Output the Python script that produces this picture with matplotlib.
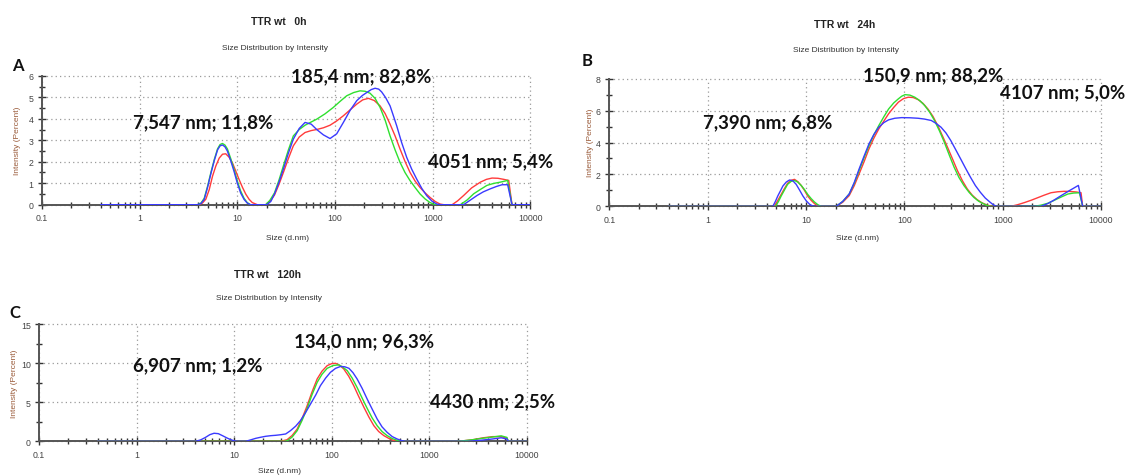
import matplotlib
matplotlib.use("Agg")
import matplotlib.pyplot as plt
from matplotlib.ticker import FixedLocator, NullFormatter, MultipleLocator

# ---------------- data: (size nm, intensity %) ----------------
# Panel A : TTR wt 0h
a_red = [(0.4, 0), (4.06, 0), (4.4, 0.08), (4.76, 0.26), (5.15, 0.7), (5.57, 1.33), (6.02, 1.8), (6.52, 2.17),
         (7.05, 2.35), (7.6, 2.37), (8.2, 2.22), (8.9, 1.95), (9.6, 1.58), (10.4, 1.18), (11.3, 0.8), (12.2, 0.49),
         (13.2, 0.25), (14.2, 0.1), (16.0, 0), (19.5, 0), (21.5, 0.15), (24, 0.45), (26.7, 0.95), (29.6, 1.5),
         (33.3, 2.15), (37.4, 2.74), (43, 3.15), (49.3, 3.36), (57, 3.45), (64.9, 3.5), (76, 3.58), (88.9, 3.7),
         (104, 3.9), (121.7, 4.14), (143, 4.42), (166.7, 4.68), (192, 4.88), (219.4, 4.95), (252, 4.85),
         (289, 4.6), (325, 4.25), (366, 3.75), (412, 3.2), (463, 2.59), (520, 2.02), (586, 1.5), (660, 1.1),
         (742, 0.8), (835, 0.55), (939, 0.34), (1060, 0.15), (1189, 0.03), (1300, 0), (1580, 0), (1800, 0.18),
         (2075, 0.43), (2500, 0.78), (3076, 1.05), (3550, 1.18), (4050, 1.24), (4650, 1.23), (5330, 1.18),
         (6000, 1.13), (6480, 0), (10000, 0)]
a_green = [(0.4, 0), (3.92, 0), (4.25, 0.08), (4.58, 0.3), (4.95, 0.85), (5.36, 1.5), (5.8, 2.1), (6.27, 2.6),
           (6.65, 2.8), (7.03, 2.85), (7.45, 2.78), (7.9, 2.6), (8.55, 2.15), (9.25, 1.64), (10.0, 1.1),
           (10.8, 0.64), (11.7, 0.3), (12.6, 0.1), (13.6, 0), (19.5, 0), (21.5, 0.2), (24, 0.55), (26.7, 1.15),
           (29.6, 1.81), (33.3, 2.55), (37.4, 3.2), (43, 3.5), (49.3, 3.7), (57, 3.85), (64.9, 3.98), (79, 4.23),
           (96.1, 4.53), (112, 4.8), (131.6, 5.07), (155, 5.22), (180.3, 5.3), (203, 5.28), (228, 5.19),
           (257, 4.95), (289, 4.53), (325, 3.95), (366, 3.2), (412, 2.55), (463, 1.97), (520, 1.5), (586, 1.12),
           (660, 0.8), (742, 0.5), (835, 0.27), (939, 0.1), (1050, 0), (1920, 0), (2250, 0.22), (2630, 0.51),
           (3100, 0.72), (3595, 0.9), (4200, 0.99), (4930, 1.05), (5850, 1.13), (6480, 0), (10000, 0)]
a_blue = [(0.4, 0), (3.92, 0), (4.25, 0.06), (4.58, 0.25), (4.95, 0.8), (5.36, 1.45), (5.8, 2.05), (6.27, 2.55),
          (6.65, 2.74), (7.03, 2.78), (7.45, 2.7), (7.9, 2.5), (8.55, 2.05), (9.25, 1.55), (10.0, 1.0),
          (10.8, 0.55), (11.7, 0.25), (12.6, 0.08), (13.6, 0), (20, 0), (22, 0.15), (24, 0.5), (26.7, 1.05),
          (29.6, 1.66), (33.3, 2.4), (37.4, 3.05), (43, 3.55), (49.3, 3.83), (57, 3.75), (64.9, 3.5), (76, 3.25),
          (88.9, 3.08), (104, 3.3), (121.7, 3.83), (143, 4.4), (166.7, 4.84), (190, 5.08), (211, 5.22),
          (235, 5.36), (257, 5.42), (280, 5.38), (300, 5.25), (330, 4.98), (366, 4.6), (395, 4.15), (428, 3.67),
          (480, 2.9), (542, 2.2), (610, 1.65), (686, 1.19), (775, 0.75), (868, 0.42), (980, 0.17), (1100, 0.03),
          (1200, 0), (2070, 0), (2400, 0.2), (2845, 0.43), (3300, 0.6), (3890, 0.74), (4500, 0.85), (5130, 0.93),
          (5850, 0.93), (6480, 0), (10000, 0)]

# Panel B : TTR wt 24h
b_red = [(0.4, 0), (4.75, 0), (5.15, 0.35), (5.6, 0.75), (6.05, 1.12), (6.5, 1.44), (7.05, 1.63), (7.64, 1.69),
         (8.25, 1.55), (8.93, 1.31), (9.65, 1.0), (10.4, 0.65), (11.3, 0.37), (12.2, 0.17), (13.0, 0.05),
         (13.7, 0), (20.3, 0), (23.6, 0.25), (27.5, 0.67), (31, 1.3), (34.7, 2.03), (39, 2.8), (43.7, 3.6),
         (49, 4.27), (55, 4.85), (62, 5.35), (69.2, 5.8), (78, 6.2), (87.1, 6.53), (98, 6.75), (109.6, 6.84),
         (123, 6.82), (138, 6.69), (155, 6.45), (173.8, 6.1), (195, 5.65), (218.8, 5.06), (245, 4.4), (275, 3.7),
         (310, 2.95), (346.7, 2.24), (390, 1.6), (436.5, 1.09), (490, 0.7), (549.5, 0.42), (615, 0.22),
         (692, 0.08), (750, 0.02), (807, 0), (1216, 0), (1420, 0.1), (1660, 0.23), (1950, 0.38), (2275, 0.54),
         (2650, 0.7), (3100, 0.85), (3620, 0.91), (4236, 0.94), (4850, 0.93), (5570, 0.9), (6265, 0.85),
         (6510, 0), (10000, 0)]
b_green = [(0.4, 0), (4.9, 0), (5.25, 0.3), (5.6, 0.65), (6.05, 1.03), (6.5, 1.375), (7.05, 1.56), (7.64, 1.62),
           (8.25, 1.52), (8.93, 1.31), (9.65, 1.05), (10.4, 0.75), (11.3, 0.48), (12.2, 0.27), (13.2, 0.1),
           (14.2, 0), (20.3, 0), (23.6, 0.3), (27.5, 0.77), (31, 1.45), (34.7, 2.24), (39, 3.05), (43.7, 3.8),
           (49, 4.48), (55, 5.06), (62, 5.62), (69.2, 6.1), (78, 6.48), (87.1, 6.74), (94, 6.9), (101.6, 7.0),
           (114, 6.97), (127.8, 6.84), (144, 6.62), (161, 6.32), (181, 5.9), (202.6, 5.38), (228, 4.72),
           (255, 4.02), (287, 3.2), (321, 2.45), (360, 1.8), (404, 1.3), (455, 0.88), (509, 0.56), (570, 0.32),
           (641, 0.15), (700, 0.05), (747, 0), (2100, 0), (2450, 0.07), (2873, 0.19), (3230, 0.33), (3630, 0.48),
           (4100, 0.63), (4600, 0.77), (5250, 0.83), (6025, 0.85), (6510, 0), (10000, 0)]
b_blue = [(0.4, 0), (4.6, 0), (4.88, 0.3), (5.17, 0.65), (5.5, 0.97), (5.82, 1.27), (6.3, 1.52), (6.8, 1.65),
          (7.35, 1.6), (7.95, 1.375), (8.6, 1.02), (9.3, 0.65), (10.1, 0.33), (10.9, 0.125), (11.6, 0.03),
          (12.2, 0), (20.3, 0), (23.6, 0.3), (27.5, 0.77), (31, 1.5), (34.7, 2.34), (39, 3.15), (43.7, 3.91),
          (49, 4.5), (55, 4.96), (62, 5.25), (69.2, 5.42), (80, 5.52), (94, 5.56), (114, 5.55), (138, 5.52),
          (160, 5.47), (188, 5.38), (210, 5.2), (236, 4.96), (265, 4.6), (297, 4.12), (333, 3.55), (374, 2.97),
          (420, 2.38), (471, 1.82), (528, 1.3), (593, 0.88), (665, 0.52), (747, 0.25), (810, 0.08), (871, 0),
          (2455, 0), (2900, 0.18), (3350, 0.4), (3770, 0.6), (4236, 0.79), (4670, 0.95), (5150, 1.1),
          (5890, 1.31), (6510, 0), (10000, 0)]

# Panel C : TTR wt 120h
c_red = [(0.4, 0), (30, 0), (35, 0.2), (39.5, 0.75), (44.5, 1.58), (50, 2.95), (56.3, 4.57), (63, 6.3),
         (71.3, 8.0), (80, 9.0), (90.3, 9.7), (100, 9.95), (110, 10.0), (121, 9.75), (133.6, 9.27), (150, 8.35),
         (169, 7.14), (190, 5.75), (215, 4.36), (242, 3.1), (272, 2.0), (305, 1.25), (344, 0.73), (390, 0.35),
         (436, 0.09), (470, 0.02), (500, 0), (1900, 0), (2300, 0.08), (2800, 0.2), (3600, 0.45), (4500, 0.6),
         (5500, 0.6), (6300, 0.4), (6500, 0), (10000, 0)]
c_green = [(0.4, 0), (32, 0), (35, 0.05), (39.5, 0.55), (44.5, 1.37), (50, 2.7), (56.3, 4.23), (63, 5.95),
           (71.3, 7.56), (80, 8.6), (90.3, 9.36), (104, 9.72), (119, 9.8), (131, 9.5), (145, 9.06), (163, 8.1),
           (183, 6.9), (206, 5.55), (232, 4.23), (261, 3.0), (294, 2.0), (330, 1.25), (372, 0.73), (420, 0.35),
           (471, 0.13), (531, 0), (1900, 0), (2300, 0.08), (2800, 0.2), (3600, 0.4), (4500, 0.55), (5500, 0.7),
           (6300, 0.5), (6500, 0), (10000, 0)]
c_blue = [(0.4, 0), (4.04, 0), (4.55, 0.18), (5.1, 0.5), (5.65, 0.85), (6.24, 1.03), (6.9, 0.98), (7.6, 0.73),
          (8.4, 0.45), (9.25, 0.21), (10.0, 0.07), (10.8, 0), (13.2, 0), (14.8, 0.18), (16.7, 0.38), (18.8, 0.52),
          (21.1, 0.64), (23.8, 0.72), (26.8, 0.77), (30, 0.84), (33.9, 0.94), (38, 1.37), (43, 1.95), (48, 2.65),
          (54, 3.65), (61, 4.79), (69, 5.95), (77, 7.14), (87, 8.1), (97.6, 8.85), (110, 9.35), (124, 9.6),
          (137, 9.55), (151, 9.36), (166, 8.8), (183, 8.0), (206, 6.8), (232, 5.43), (262, 4.1), (294, 2.86),
          (330, 1.85), (372, 1.15), (420, 0.6), (471, 0.3), (520, 0.1), (575, 0), (2500, 0), (3000, 0.07),
          (3500, 0.15), (4500, 0.3), (5500, 0.45), (6300, 0.3), (6500, 0), (10000, 0)]

x_ticks = [0.1, 1, 10, 100, 1000, 10000]
x_tick_labels = ["0.1", "1", "10", "100", "1000", "10000"]

titles = ["TTR wt   0h", "TTR wt   24h", "TTR wt   120h"]
subtitle = "Size Distribution by Intensity"
letters = ["A", "B", "C"]
annotations = [
    ["7,547 nm; 11,8%", "185,4 nm; 82,8%", "4051 nm; 5,4%"],
    ["7,390 nm; 6,8%", "150,9 nm; 88,2%", "4107 nm; 5,0%"],
    ["6,907 nm; 1,2%", "134,0 nm; 96,3%", "4430 nm; 2,5%"],
]
y_max = [6, 8, 15]
y_major = [1, 2, 5]

# ---------------- layout ----------------
W, H = 1137, 477
fig = plt.figure(figsize=(W / 100, H / 100), dpi=100)
fig.patch.set_facecolor("white")

def fx(x):
    return x / W

def fy(y):
    return 1 - y / H

# axes boxes in pixels: left, top, right, bottom
boxes = [(42, 76.8, 530.4, 205.7), (609.3, 79.7, 1101, 207.3), (39, 325.3, 526.5, 442.3)]
title_pos = [(279, 22), (845, 25), (268, 275)]
sub_pos = [(275, 49), (846, 50.5), (269, 298)]
letter_pos = [(18, 66), (587, 61), (15, 313)]
ann_pos = [
    [(203, 123), (361, 77), (491, 162)],
    [(768, 123), (933, 76), (1063, 93)],
    [(198, 366), (364, 342), (493, 402)],
]
ylab_pos = [(18, 141), (590, 143), (14, 384)]
xlab_pos = [(287, 238), (858, 238), (280, 472)]

series = [[a_red, a_green, a_blue], [b_red, b_green, b_blue], [c_red, c_green, c_blue]]
colors = ["#ff3b3b", "#2fe02f", "#3a3aff"]

small_font = ["Liberation Sans", "DejaVu Sans"]
ann_font = ["Lato", "DejaVu Sans"]

for i in range(3):
    l, t, r, b = boxes[i]
    ax = fig.add_axes([fx(l), fy(b), (r - l) / W, (b - t) / H])
    for pts, c in zip(series[i], colors):
        xs, ys = zip(*pts)
        ax.plot(xs, ys, color=c, lw=1.0, solid_joinstyle="round", zorder=3)
    ax.set_xscale("log")
    ax.set_xlim(0.1, 10000)
    ax.set_ylim(0, y_max[i])
    ax.xaxis.set_major_locator(FixedLocator(x_ticks))
    ax.set_xticklabels(x_tick_labels)
    minor = [m * 10.0 ** e for e in range(-1, 4) for m in range(2, 10)]
    ax.xaxis.set_minor_locator(FixedLocator(minor))
    ax.xaxis.set_minor_formatter(NullFormatter())
    ax.yaxis.set_major_locator(MultipleLocator(y_major[i]))
    ax.yaxis.set_minor_locator(MultipleLocator(y_major[i] / 2))
    ax.tick_params(which="major", direction="inout", length=6, width=1.0, color="#333333",
                   labelsize=6.3, labelcolor="#444444", pad=3)
    ax.tick_params(which="minor", direction="inout", length=4, width=1.0, color="#333333")
    for lab in ax.get_xticklabels() + ax.get_yticklabels():
        lab.set_family(small_font)
    for s in ["top", "right"]:
        ax.spines[s].set_visible(False)
    for s in ["left", "bottom"]:
        ax.spines[s].set_color("#555555")
        ax.spines[s].set_linewidth(1.4)
    ax.grid(True, which="major", color="#9a9a9a", linestyle=(0, (1, 2.5)), linewidth=0.9)
    for gl in ax.get_xgridlines() + ax.get_ygridlines():
        gl.set_clip_on(False)
    ax.set_axisbelow(True)
    ax.patch.set_alpha(0)

    fig.text(fx(title_pos[i][0]), fy(title_pos[i][1]), titles[i], ha="center", va="center",
             fontsize=7.5, fontweight="bold", family=small_font, color="#222222")
    fig.text(fx(sub_pos[i][0]), fy(sub_pos[i][1]), subtitle, ha="center", va="center",
             fontsize=6, family=small_font, color="#333333")
    fig.text(fx(letter_pos[i][0]), fy(letter_pos[i][1]), letters[i], ha="center", va="center",
             fontsize=12, fontweight="bold", family=ann_font, color="#111111")
    fig.text(fx(ylab_pos[i][0]), fy(ylab_pos[i][1]), "Intensity (Percent)", ha="center", va="center",
             rotation=90, fontsize=6, family=small_font, color="#9a5b3a")
    fig.text(fx(xlab_pos[i][0]), fy(xlab_pos[i][1]), "Size (d.nm)", ha="center", va="center",
             fontsize=6, family=small_font, color="#333333")
    for txt, (px, py) in zip(annotations[i], ann_pos[i]):
        fig.text(fx(px), fy(py), txt, ha="center", va="center", fontsize=13.5,
                 fontweight="bold", family=ann_font, color="#111111")

fig.savefig("out.png", dpi=100, facecolor="white")
